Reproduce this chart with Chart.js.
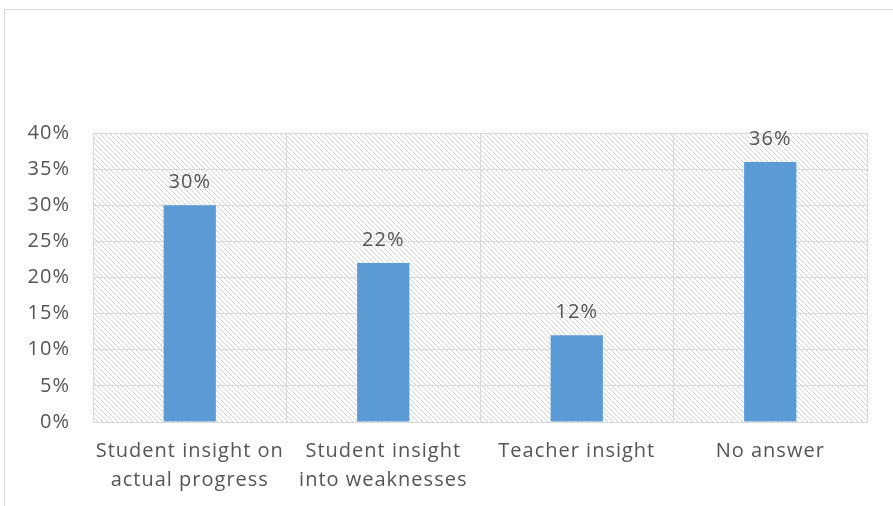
<!DOCTYPE html>
<html lang="en">
<head>
  <meta charset="UTF-8">
  <title>Insight chart</title>
  <script src="https://cdn.jsdelivr.net/npm/chart.js"></script>
  <style>
    body { margin: 0; background: #fff; }
    #wrap { position: relative; width: 893px; height: 506px; }
  </style>
</head>
<body>
<div id="wrap"><canvas id="chart" width="893" height="506"></canvas></div>
<script>
const categories = [
  ['Student insight on', 'actual progress'],
  ['Student insight', 'into weaknesses'],
  'Teacher insight',
  'No answer'
];
const values = [30, 22, 12, 36];
const yTicks = [0, 5, 10, 15, 20, 25, 30, 35, 40];

const textColor = '#555555';
const fontFamily = '"Open Sans", sans-serif';

// a little letter spacing, the original font runs wide
const spacing = {
  id: 'spacing',
  beforeUpdate(chart) { chart.ctx.letterSpacing = '1px'; },
  beforeDraw(chart) { chart.ctx.letterSpacing = '1px'; }
};

// hatched plot background + outer frame
const backdrop = {
  id: 'backdrop',
  beforeDraw(chart) {
    const { ctx, chartArea: a } = chart;
    ctx.save();
    ctx.strokeStyle = '#d9d9d9';
    ctx.lineWidth = 1;
    ctx.strokeRect(4.5, 9.5, 1000, 1000);
    ctx.beginPath();
    ctx.rect(a.left, a.top, a.right - a.left, a.bottom - a.top);
    ctx.clip();
    ctx.strokeStyle = '#d4d4d4';
    ctx.beginPath();
    const h = a.bottom - a.top;
    for (let x = a.left - h; x < a.right + 5; x += 5) {
      ctx.moveTo(x, a.top);
      ctx.lineTo(x + h, a.bottom);
    }
    ctx.stroke();
    ctx.restore();
  }
};

const valueLabels = {
  id: 'valueLabels',
  afterDatasetsDraw(chart) {
    const { ctx } = chart;
    const meta = chart.getDatasetMeta(0);
    ctx.save();
    ctx.fillStyle = textColor;
    ctx.font = '20px ' + fontFamily;
    ctx.textAlign = 'center';
    ctx.textBaseline = 'middle';
    meta.data.forEach((bar, i) => {
      ctx.fillText(values[i] + '%', bar.x, bar.y - 23);
    });
    ctx.restore();
  }
};

new Chart(document.getElementById('chart'), {
  type: 'bar',
  data: {
    labels: categories,
    datasets: [{
      data: values,
      backgroundColor: '#5b9bd5',
      barPercentage: 0.27,
      categoryPercentage: 1
    }]
  },
  options: {
    responsive: false,
    animation: false,
    layout: { padding: { top: 133, right: 26, left: 0, bottom: 0 } },
    plugins: { legend: { display: false }, tooltip: { enabled: false } },
    scales: {
      x: {
        grid: { color: '#d9d9d9', drawTicks: false },
        border: { color: '#d9d9d9' },
        ticks: {
          color: textColor,
          font: { family: fontFamily, size: 20, lineHeight: 1.45 },
          padding: 15,
          maxRotation: 0,
          autoSkip: false
        },
        afterFit(scale) { scale.height = 84; }
      },
      y: {
        min: 0,
        max: 40,
        afterBuildTicks(scale) { scale.ticks = yTicks.map(v => ({ value: v })); },
        grid: { color: '#d9d9d9', drawTicks: false },
        border: { display: false },
        ticks: {
          color: textColor,
          font: { family: fontFamily, size: 20 },
          padding: 23,
          callback: v => v + '%'
        },
        afterFit(scale) { scale.width = 93; }
      }
    }
  },
  plugins: [spacing, backdrop, valueLabels]
});
</script>
</body>
</html>
